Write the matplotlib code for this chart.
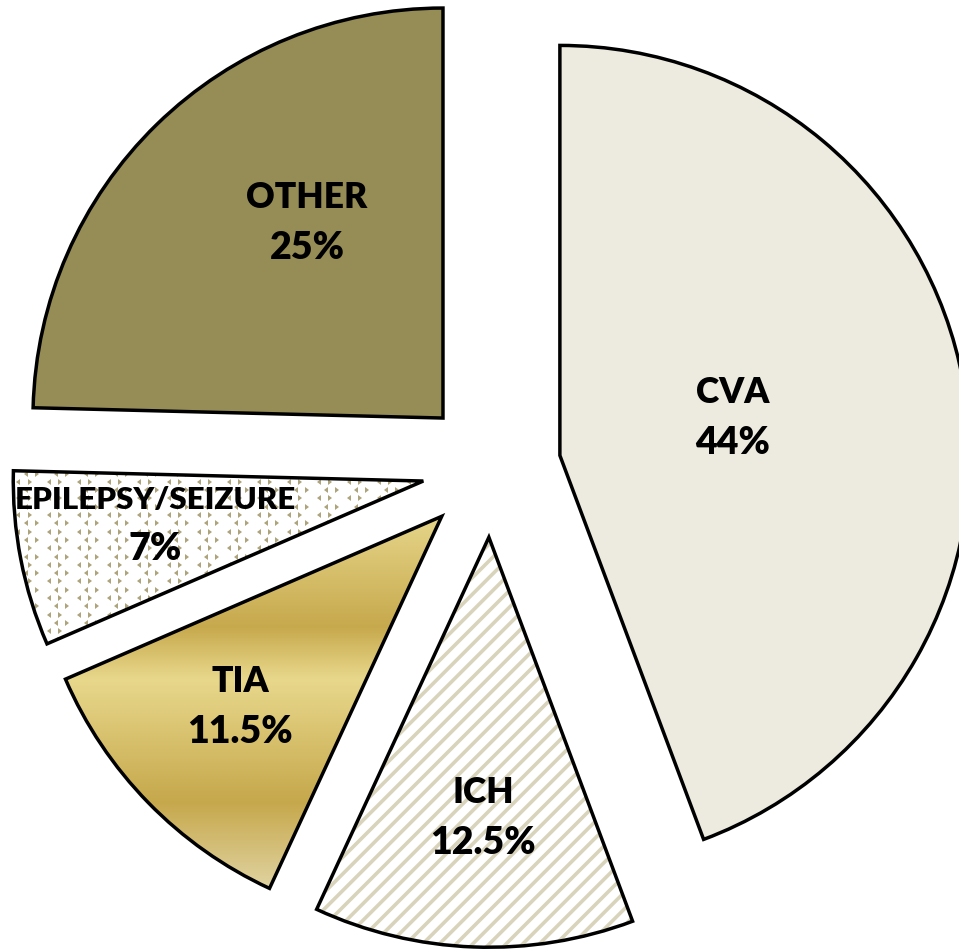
import matplotlib
matplotlib.use("Agg")
import matplotlib.pyplot as plt
import numpy as np
from matplotlib.colors import LinearSegmentedColormap

plt.rcParams['font.family'] = ['Lato', 'DejaVu Sans']
plt.rcParams['hatch.linewidth'] = 2.6

# data
labels = ["CVA", "ICH", "TIA", "EPILEPSY/SEIZURE", "OTHER"]
pct_text = ["44%", "12.5%", "11.5%", "7%", "25%"]
values = [44.3, 12.6, 11.6, 6.9, 24.6]

# styling / layout
face = ["#EDEADF", "#FFFFFF", "#D9C170", "#FFFFFF", "#968C56"]
explode = [0.1695] * 5
R = 410.0                       # pixels per unit radius
CX, CY = 491.5, 467.8           # pie centre in pixels
label_px = [(733, 416), (483, 816), (240, 705), (155, 522.5), (307, 221.5)]
name_size = [25.5, 25.5, 25.5, 22.5, 25.5]
pct_size = 27

to_x = lambda p: (p - CX) / R
to_y = lambda p: (CY - p) / R

fig = plt.figure(figsize=(9.59, 9.49), dpi=100)
ax = fig.add_axes([0, 0, 1, 1])

# base fill
wedges, _ = ax.pie(values, colors=face, explode=explode, startangle=90,
                   counterclock=False, radius=1,
                   wedgeprops=dict(linewidth=0))

# ICH stripes
ich = wedges[1]
ich.set_hatch("//")
ich.set_edgecolor("#D8D3BB")

# TIA gold gradient clipped to the wedge
tia = wedges[2]
tia.set_facecolor("none")
stops = [(505, "#E9DA90"), (627, "#C7A94D"), (680, "#E8D88C"), (803, "#C6A84C"), (900, "#E4D9AC")]
cm = LinearSegmentedColormap.from_list(
    "gold", [((p - 505) / (900 - 505), c) for p, c in stops])
grad = np.linspace(0, 1, 400).reshape(-1, 1)
img = ax.imshow(grad, cmap=cm, aspect="auto",
                extent=(-1.2, 0.2, to_y(900), to_y(505)),
                origin="upper", zorder=1.5)
img.set_clip_path(tia)

# EPILEPSY chevron texture
ep = wedges[3]
gx = np.arange(-1.25, 0.0, 15 / R)
gy = np.arange(-0.5, 0.1, 8.3 / R)
for i, yy in enumerate(gy):
    xs = gx + (7.5 / R if i % 2 else 0)
    for j, xx in enumerate(xs):
        m = 4 if (i + j) % 2 else 5
        p, = ax.plot(xx, yy, marker=m, ms=4.0, color="#ADA47C", mew=0, zorder=1.6)
        p.set_clip_path(ep)

# outlines
outl, _ = ax.pie(values, colors=["none"] * 5, explode=explode, startangle=90,
                 counterclock=False, radius=1,
                 wedgeprops=dict(linewidth=2.5, edgecolor="black", fill=False))
for w in outl:
    w.set_zorder(3)

for (px_, py_), lab, pct, fs in zip(label_px, labels, pct_text, name_size):
    ax.text(to_x(px_), to_y(py_ - 13), lab, ha="center", va="baseline",
            fontsize=fs, fontweight="heavy", color="black", zorder=4)
    ax.text(to_x(px_), to_y(py_ + 38), pct, ha="center", va="baseline",
            fontsize=pct_size, fontweight="heavy", color="black", zorder=4)

ax.set_aspect("auto")
ax.set_xlim(to_x(0), to_x(959))
ax.set_ylim(to_y(949), to_y(0))
ax.axis("off")

fig.savefig("out.png", dpi=100)
